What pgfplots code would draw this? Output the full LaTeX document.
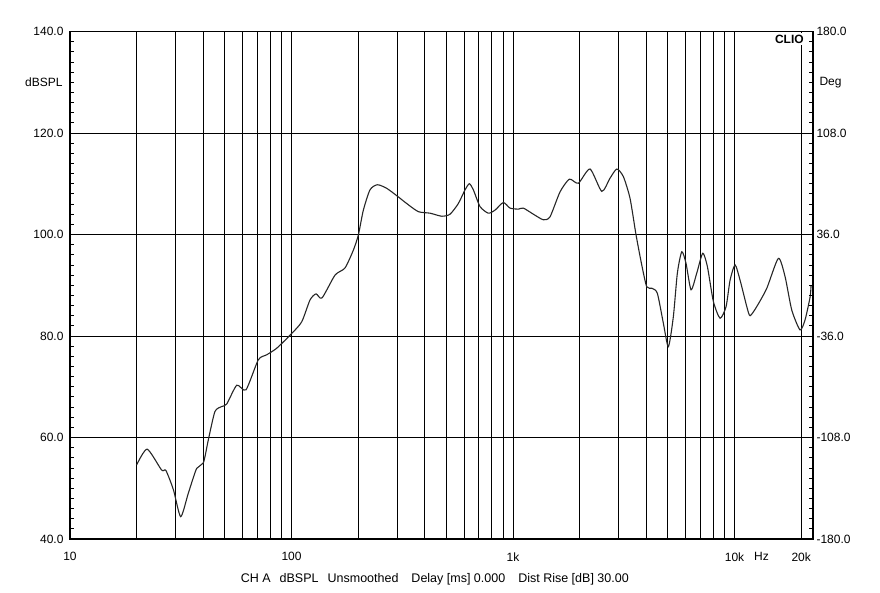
\documentclass[border=0pt]{standalone}
\usepackage{fontspec}
\setmainfont{Liberation Sans}
\usepackage{pgfplots}
\pgfplotsset{compat=1.18}

\begin{document}
\begin{tikzpicture}[font=\fontsize{12}{14}\selectfont]
\path[use as bounding box] (-70pt,-54pt) rectangle (810pt,539pt);

\begin{axis}[
  scale only axis, width=743pt, height=507.5pt,
  at={(0,0)}, anchor=south west,
  xmode=log, xmin=10, xmax=22600, ymin=40, ymax=140,
  xtick={10,100,1000,10000,20000},
  xticklabels={10,100,1k,10k,20k},
  minor xtick={20,30,40,50,60,70,80,90,200,300,400,500,600,700,800,900,
               2000,3000,4000,5000,6000,7000,8000,9000},
  extra x ticks={13240}, extra x tick labels={Hz},
  extra x tick style={grid=none, major tick length=0pt},
  xticklabel style={yshift=-10pt},
  ytick={40,60,80,100,120,140},
  yticklabels={40.0,60.0,80.0,100.0,120.0,140.0},
  yticklabel style={xshift=-3pt},
  minor y tick num=9,
  ytick pos=left, tick align=inside,
  major tick length=4pt, minor tick length=4pt,
  xmajorgrids, xminorgrids, ymajorgrids,
  major grid style={black, line width=0.8pt},
  minor grid style={black, line width=0.8pt},
  tick style={black, line width=0.8pt},
  axis line style={line width=1.5pt},
  clip=false,
]
\addplot[black!85, line width=1.1pt, smooth, tension=0.4] coordinates {
(20,54.6) (22.3,57.7) (25.9,53.6) (27.1,53.5) (29.3,49.7) (31.6,44.4)
(34.2,49) (37.3,53.9) (40.0,55) (42.1,59.5) (45.1,65.1) (48.4,66.1)
(51.0,66.6) (56.6,70.3) (62.3,69.4) (70.8,75.3) (77.3,76.3) (85.8,77.6)
(100.2,80.5) (111.2,82.8) (121.2,87.1) (129,88.3) (137.3,87.5) (157.2,92)
(174.3,93.4) (190.1,96.9) (200.3,99.9) (211,104.8) (226.1,108.8) (244,109.8)
(269,109.1) (303.6,107.4) (331.2,106.1) (373.7,104.5) (422,104.2) (476.5,103.6)
(519.6,104) (566.2,106.1) (607.3,108.8) (634.9,110) (662,108.8) (709.6,105.5)
(773.6,104.2) (829.4,104.8) (904.2,106.3) (969.4,105.2) (1057,105) (1113,105.2)
(1235,104) (1370,102.9) (1469,103.5) (1630,108.4) (1796,110.9) (1971,110.1)
(2226,112.9) (2515,108.5) (2741,111.1) (2940,112.9) (3148,111.4) (3375,107.1)
(3592,99.9) (3811,94) (4013,89.7) (4241,89.4) (4482,88.4) (4771,82.5)
(5026,77.9) (5292,83.8) (5518,92.4) (5777,96.6) (6039,94.3) (6362,89.1)
(6751,92.4) (7185,96.3) (7538,93.7) (8023,86.8) (8602,83.5) (9155,85.8)
(9544,91) (10053,94) (10588,91) (11353,85.8) (11749,84) (12595,85.8)
(13977,89.4) (15768,95.3) (16904,91.7) (18125,85.1) (19757,81.2) (20815,83.2)
(21928,87.7) (22150,90)
};
\node[anchor=east, xshift=-4pt] at (rel axis cs:0,0.9) {dBSPL};
\node[anchor=north east, fill=white, inner sep=2pt, font=\fontsize{12}{14}\selectfont\bfseries]
  at (rel axis cs:0.9905,0.998) {CLIO};
\node[anchor=center, font=\fontsize{12.5}{14}\selectfont] at ([yshift=-40pt]rel axis cs:0.491,0)
  {CH A\hspace{9pt}dBSPL\hspace{9pt}Unsmoothed\hspace{13pt}Delay [ms] 0.000\hspace{13pt}Dist Rise [dB] 30.00};
\end{axis}

\begin{axis}[
  scale only axis, width=743pt, height=507.5pt,
  at={(0,0)}, anchor=south west,
  axis x line=none, axis y line*=right,
  xmin=0, xmax=1, ymin=-180, ymax=180,
  ytick={-180,-108,-36,36,108,180},
  yticklabels={-180.0,-108.0,-36.0,36.0,108.0,180.0},
  minor y tick num=9,
  tick align=inside,
  major tick length=4pt, minor tick length=4pt,
  tick style={black, line width=0.8pt},
  axis line style={line width=1.5pt},
  clip=false,
]
\addplot[draw=none] coordinates {(0,-180) (1,180)};
\node[anchor=west, xshift=3pt] at (rel axis cs:1,0.9) {Deg};
\end{axis}
\end{tikzpicture}
\end{document}
